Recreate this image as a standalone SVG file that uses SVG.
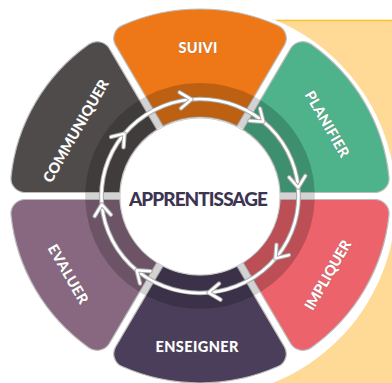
<svg xmlns="http://www.w3.org/2000/svg" xmlns:xlink="http://www.w3.org/1999/xlink" width="392" height="383" viewBox="0 0 392 383">
<style>
.seg{stroke:#bdbdbd;stroke-width:1.2}
.band{fill:#000;fill-opacity:0.2}
.lbl{font-family:Lato,"Open Sans","Liberation Sans",sans-serif;font-weight:900;font-size:14.5px;fill:#fff;text-anchor:middle;stroke:#666;stroke-opacity:0.35;stroke-width:1;paint-order:stroke}
.ring-o{fill:none;stroke:#a9a9a9;stroke-width:4.6}
.ring-i{fill:none;stroke:#fff;stroke-width:2.6}
.chev-o{fill:none;stroke:#a9a9a9;stroke-width:4.4;stroke-linecap:round;stroke-linejoin:round}
.chev-i{fill:none;stroke:#fff;stroke-width:2.4;stroke-linecap:round;stroke-linejoin:round}
</style>
<defs>
<path id="seg" d="M36.43,-70.10 L83.03,-150.80 A14,14 0 0 0 76.64,-170.57 A187,187 0 0 0 -76.64,-170.57 A14,14 0 0 0 -83.03,-150.80 L-36.43,-70.10 A79,79 0 0 1 36.43,-70.10 Z"/>
<path id="band" d="M36.43,-70.10 L53.44,-99.57 A113,113 0 0 0 -53.44,-99.57 L-36.43,-70.10 A79,79 0 0 1 36.43,-70.10 Z"/>
<g id="chev"><path class="chev-o" d="M-11,-8 L0,0 L-11,8"/><path class="chev-i" d="M-11,-8 L0,0 L-11,8"/></g>
</defs>
<rect x="240" y="20.5" width="160" height="380" fill="#feda96" stroke="#f7c433" stroke-width="1.6"/>
<circle cx="200" cy="201" r="196" fill="#fff"/>
<g transform="translate(200 196) scale(1.016 1)">
<circle r="96" fill="none" stroke="#d3d3d3" stroke-width="34"/>
</g>
<g id="suivi">
<g transform="translate(200 196) scale(1.016 1) rotate(0)"><use xlink:href="#seg" class="seg" fill="#ee7817"/><use xlink:href="#band" class="band"/></g>
<text class="lbl" transform="translate(198 48)" y="5" textLength="39">SUIVI</text>
</g>
<g id="planifier">
<g transform="translate(200 196) scale(1.016 1) rotate(60)"><use xlink:href="#seg" class="seg" fill="#4eb38b"/><use xlink:href="#band" class="band"/></g>
<text class="lbl" transform="translate(327 124) rotate(60)" y="5" textLength="74">PLANIFIER</text>
</g>
<g id="impliquer">
<g transform="translate(200 196) scale(1.016 1) rotate(120)"><use xlink:href="#seg" class="seg" fill="#ec636b"/><use xlink:href="#band" class="band"/></g>
<text class="lbl" transform="translate(328 275) rotate(-60)" y="5" textLength="78">IMPLIQUER</text>
</g>
<g id="enseigner">
<g transform="translate(200 196) scale(1.016 1) rotate(180)"><use xlink:href="#seg" class="seg" fill="#4a3e5a"/><use xlink:href="#band" class="band"/></g>
<text class="lbl" transform="translate(197 347)" y="5" textLength="83">ENSEIGNER</text>
</g>
<g id="evaluer">
<g transform="translate(200 196) scale(1.016 1) rotate(240)"><use xlink:href="#seg" class="seg" fill="#876880"/><use xlink:href="#band" class="band"/></g>
<text class="lbl" transform="translate(68 274) rotate(60)" y="5" textLength="66">EVALUER</text>
</g>
<g id="communiquer">
<g transform="translate(200 196) scale(1.016 1) rotate(300)"><use xlink:href="#seg" class="seg" fill="#4f4b4a"/><use xlink:href="#band" class="band"/></g>
<text class="lbl" transform="translate(76 131) rotate(-60)" y="5" textLength="116">COMMUNIQUER</text>
</g>
<g id="connectors" transform="translate(200 196) scale(1.016 1)">
<circle class="ring-o" r="97"/>
<circle class="ring-i" r="97"/>
<use xlink:href="#chev" transform="rotate(-95) translate(97 0) rotate(90)"/>
<use xlink:href="#chev" transform="rotate(-50) translate(97 0) rotate(90)"/>
<use xlink:href="#chev" transform="rotate(-5) translate(97 0) rotate(90)"/>
<use xlink:href="#chev" transform="rotate(40) translate(97 0) rotate(90)"/>
<use xlink:href="#chev" transform="rotate(85) translate(97 0) rotate(90)"/>
<use xlink:href="#chev" transform="rotate(130) translate(97 0) rotate(90)"/>
<use xlink:href="#chev" transform="rotate(175) translate(97 0) rotate(90)"/>
<use xlink:href="#chev" transform="rotate(220) translate(97 0) rotate(90)"/>
</g>
<g id="apprentissage">
<ellipse cx="200" cy="196.5" rx="80" ry="78.5" fill="#fff" stroke="#c8c8c8" stroke-width="1"/>
<text x="198.5" y="205.5" textLength="139" style="font-family:Lato,'Open Sans','Liberation Sans',sans-serif;font-weight:900;font-size:19px;fill:#3d3451;text-anchor:middle">APPRENTISSAGE</text>
</g>
</svg>
